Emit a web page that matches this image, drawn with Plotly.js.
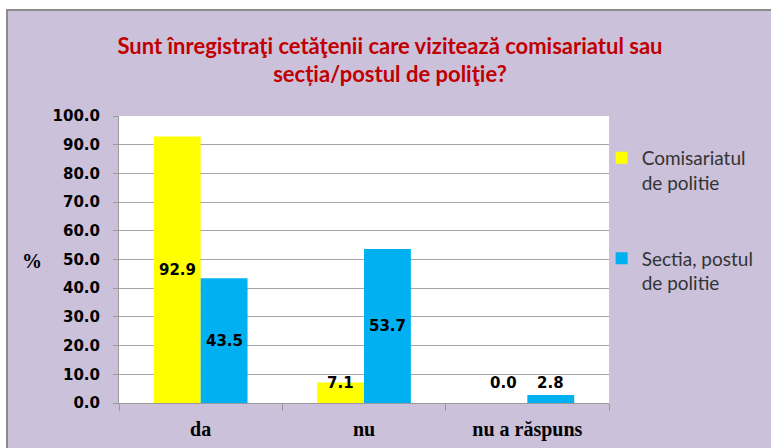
<!DOCTYPE html>
<html><head><meta charset="utf-8">
<script src="https://cdn.plot.ly/plotly-3.0.1.min.js"></script>
<style>
html,body{margin:0;padding:0;background:#fff;overflow:hidden;}
#frame{position:absolute;left:6px;top:9px;width:770px;height:442px;border:2px solid #8c8c8c;background:#CBC1DB;}
#chart{width:767px;height:440px;}
</style></head>
<body>
<div id="frame"><div id="chart"></div></div>
<script>
const categories = ['da', 'nu', 'nu a răspuns'];
const seriesNames = ['Comisariatul<br>de politie', 'Sectia, postul<br>de politie'];
const comisariat = [92.9, 7.1, 0.0];
const sectia = [43.5, 53.7, 2.8];
const colors = ['#FFFF00', '#00B0F0'];
const titleText = 'Sunt înregistraţi cetăţenii care vizitează comisariatul sau<br>secția/postul de poliţie?';

const bargap = 0.426;
const seriesVals = [comisariat, sectia];
const traces = seriesVals.map((vals, i) => ({
  type: 'bar', x: categories, y: vals, name: seriesNames[i],
  legendgroup: 'g' + i,
  marker: {color: colors[i]}, hoverinfo: 'skip'
}));

const barW = (1 - bargap) / 2;
const labelFont = {family: 'DejaVu Sans, Verdana, sans-serif', size: 15, color: '#000', weight: 'bold'};
const annotations = [];
seriesVals.forEach((vals, i) => {
  vals.forEach((v, j) => {
    annotations.push({
      x: j + (i === 0 ? -barW / 2 : barW / 2), xref: 'x',
      y: Math.max(v / 2, 7.0), yref: 'y',
      text: v.toFixed(1), showarrow: false, yanchor: 'middle',
      font: labelFont
    });
  });
});
annotations.push({
  x: -0.177, xref: 'paper', xanchor: 'center', y: 0.495, yref: 'paper', yanchor: 'middle',
  text: '%', showarrow: false,
  font: {family: 'Liberation Serif, serif', size: 20, color: '#000', weight: 'bold'}
});

const layout = {
  width: 767, height: 440,
  paper_bgcolor: '#CBC1DB', plot_bgcolor: '#FFFFFF',
  margin: {l: 111, r: 166, t: 105, b: 48},
  title: {text: titleText, x: 0.498, xanchor: 'center', y: 0.903, yanchor: 'top',
    font: {family: 'Lato, sans-serif', size: 22, color: '#C00000', weight: 'bold'}},
  barmode: 'group', bargap: bargap, bargroupgap: 0,
  xaxis: {
    type: 'category', showline: true, linecolor: '#9a9a9a', linewidth: 1,
    ticks: 'outside', tickson: 'boundaries', ticklen: 7, tickcolor: '#9a9a9a',
    ticklabelstandoff: 8,
    tickfont: {family: 'Liberation Serif, serif', size: 20, color: '#000', weight: 'bold'}
  },
  yaxis: {
    range: [0, 100], dtick: 10, tickformat: '.1f',
    showgrid: true, gridcolor: '#a6a6a6', gridwidth: 1,
    showline: true, linecolor: '#9a9a9a', linewidth: 1,
    ticks: 'outside', ticklen: 5, tickcolor: '#9a9a9a',
    ticklabelstandoff: 10,
    zeroline: false,
    tickfont: labelFont
  },
  legend: {x: 0.985, xanchor: 'left', y: 0.92, yanchor: 'top', valign: 'top',
    bgcolor: 'rgba(0,0,0,0)', tracegroupgap: 48, traceorder: 'grouped',
    itemwidth: 30,
    font: {family: 'Lato, sans-serif', size: 19, color: '#333'}},
  showlegend: true,
  annotations: annotations
};

Plotly.newPlot('chart', traces, layout, {displayModeBar: false, staticPlot: true});
</script>
</body></html>
